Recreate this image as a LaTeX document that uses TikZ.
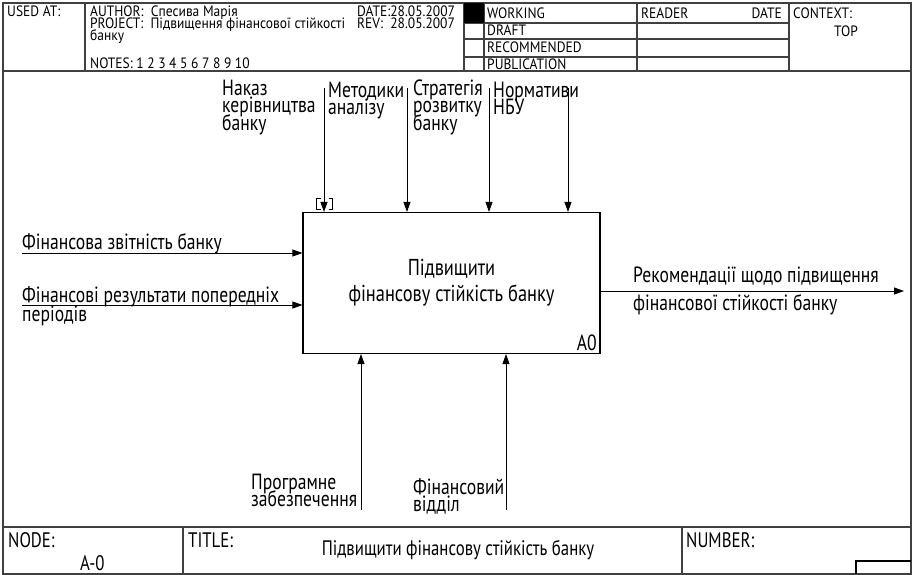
\documentclass[tikz,border=0pt]{standalone}
\usepackage{fontspec}
\setmainfont{PT Sans}[FakeStretch=0.8]
\newfontfamily\hdrfam{PT Sans}[FakeStretch=0.9]
\usetikzlibrary{arrows.meta}
\newcommand\hdrfont{\hdrfam\fontsize{15}{12}\selectfont\lineskiplimit=-20pt}
\newcommand\lblfont{\fontsize{22}{17}\selectfont\lineskiplimit=-20pt}
\newcommand\boxfont{\fontsize{23}{17}\selectfont\lineskiplimit=-20pt}
\newcommand\ftrfont{\fontsize{21}{17}\selectfont\lineskiplimit=-20pt}
\tikzset{
  frame/.style={line width=1.4pt, draw=black!75},
  conn/.style={line width=0.9pt, -{Triangle[length=10pt,width=7pt]}},
  hdr/.style={font=\hdrfont, inner sep=0pt, anchor=base west},
  ftr/.style={font=\ftrfont, inner sep=0pt, anchor=base west},
  lbl/.style={font=\lblfont, inner sep=0pt, anchor=base west, align=left},
  actbox/.style={draw, line width=1.1pt, minimum width=297pt, minimum height=141pt, inner sep=0pt},
}
\begin{document}
\begin{tikzpicture}[x=1pt, y=-1pt]
\useasboundingbox (0,0) rectangle (912,575);

% ---- sheet frame ----
\draw[frame] (3,3) rectangle (911,574);
\draw[frame] (3,71) -- (911,71);
\draw[frame] (3,527) -- (911,527);

% ---- header grid ----
\draw[frame] (85,3) -- (85,71);
\draw[frame] (464,3) -- (464,71);
\draw[frame] (484,3) -- (484,71);
\draw[frame] (637,3) -- (637,71);
\draw[frame] (789,3) -- (789,71);
\foreach \yy in {23,39,57} \draw[frame] (464,\yy) -- (789,\yy);
\fill[black] (464,3) rectangle (484,23);

% ---- header texts ----
\node[hdr] (usedat) at (7,17) {USED AT:};
\node[hdr] (author) at (90,17) {AUTHOR:\ \ Спесива Марія};
\node[hdr] (project) at (90,29) {PROJECT:\ \ Підвищення фінансової стійкості};
\node[hdr] (project2) at (90,41) {банку};
\node[hdr] (notes) at (90,69) {NOTES:\ 1\ 2\ 3\ 4\ 5\ 6\ 7\ 8\ 9\ 10};
\node[hdr] (date) at (357,17) {DATE:28.05.2007};
\node[hdr] (rev) at (357,29) {REV:\ \ 28.05.2007};
\node[hdr] (working) at (487,19) {WORKING};
\node[hdr] (draft) at (487,36) {DRAFT};
\node[hdr] (recommended) at (487,53) {RECOMMENDED};
\node[hdr] (publication) at (487,70) {PUBLICATION};
\node[hdr] (reader) at (641,19) {READER};
\node[hdr, anchor=base east] (rdate) at (782,19) {DATE};
\node[hdr] (context) at (793,19) {CONTEXT:};
\node[hdr] (top) at (834,37) {TOP};

% ---- footer ----
\draw[frame] (183,527) -- (183,574);
\draw[frame] (682,527) -- (682,574);
\draw[line width=1.1pt] (856,574) -- (856,561) -- (911,561);
\node[ftr] (nodelbl) at (8,547) {NODE:};
\node[ftr] (nodenum) at (80,570) {A-0};
\node[ftr] (titlelbl) at (188,547) {TITLE:};
\node[ftr, anchor=base] (title) at (458,555) {Підвищити фінансову стійкість банку};
\node[ftr] (numberlbl) at (686,547) {NUMBER:};

% ---- activity box ----
\node[actbox] (a0) at (451.5,283) {};
\node[font=\boxfont, align=center, inner sep=0pt, anchor=base] (a0txt) at (451.5,301)
  {Підвищити\\[9pt]фінансову стійкість банку};
\node[lbl, anchor=base east] (a0num) at (597,350) {A0};

% ---- controls ----
\coordinate (c1) at (324,88);
\coordinate (c2) at (407,88);
\coordinate (c3) at (489,88);
\coordinate (c4) at (568,88);
\foreach \c in {c1,c2,c3,c4} \draw[conn] (\c) -- (\c |- a0.north);
\node[lbl] (l1) at (222,130) {Наказ\\керівництва\\банку};
\node[lbl] (l2) at (328,114) {Методики\\аналізу};
\node[lbl] (l3) at (413,130) {Стратегія\\розвитку\\банку};
\node[lbl] (l4) at (493,114) {Нормативи\\НБУ};
% tunnel brackets around the first control
\draw[line width=1pt] (320.5,198.5) -- (316.5,198.5) -- (316.5,209.5) -- (320.5,209.5);
\draw[line width=1pt] (328.5,198.5) -- (332.5,198.5) -- (332.5,209.5) -- (328.5,209.5);

% ---- inputs ----
\coordinate (i1) at (22,253);
\coordinate (i2) at (22,305);
\draw[conn] (i1) -- (i1 -| a0.west);
\draw[conn] (i2) -- (i2 -| a0.west);
\node[lbl] (li1) at (22,249) {Фінансова звітність банку};
\node[lbl] (li2) at (22,321) {Фінансові результати попередніх\\[2pt]періодів};

% ---- output ----
\coordinate (o1) at (904,291);
\draw[conn] (a0.east |- o1) -- (o1);
\node[lbl] (lo1) at (633,310) {Рекомендації щодо підвищення\\[11pt]фінансової стійкості банку};

% ---- mechanisms ----
\coordinate (m1) at (361,510);
\coordinate (m2) at (506,510);
\draw[conn] (m1) -- (m1 |- a0.south);
\draw[conn] (m2) -- (m2 |- a0.south);
\node[lbl] (lm1) at (251,506) {Програмне\\забезпечення};
\node[lbl] (lm2) at (413,511) {Фінансовий\\відділ};
\end{tikzpicture}
\end{document}
